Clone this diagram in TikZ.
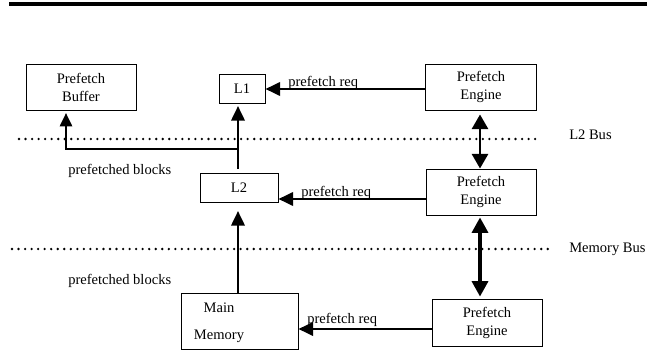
\documentclass[tikz,border=0pt]{standalone}
\usepackage{fontspec}
\setmainfont{Liberation Serif}
\usetikzlibrary{arrows.meta}

\tikzset{
  box/.style={draw, line width=0.7pt, inner sep=0pt, align=center,
              font=\fontsize{10.9}{13.5}\selectfont},
  lbl/.style={inner sep=0pt, anchor=base west, font=\fontsize{10.9}{13}\selectfont},
  flow/.style={line width=2pt, -{Triangle[length=11pt,width=10pt]}},
  fat/.style={line width=2.4pt, {Triangle[length=11.5pt,width=12pt]}-{Triangle[length=11.5pt,width=12pt]}},
  bus/.style={line width=1.95pt, line cap=round, dash pattern=on 0pt off 4.9pt},
}

\begin{document}
\begin{tikzpicture}[x=0.75pt, y=-0.75pt]
  \useasboundingbox (0,0) rectangle (660,360);

  % heading rule
  \draw[line width=2.3pt] (9,4) -- (647,4);

  % buses
  \draw[bus] (19,139) -- (537,139);
  \draw[bus] (12,249) -- (548,249);
  \node[lbl] (l2bus) at (569,139) {L2 Bus};
  \node[lbl] (membus) at (569,252) {Memory Bus};

  % blocks
  \node[box, minimum width=82.5pt, minimum height=34.5pt] (buf) at (81,87) {Prefetch\\Buffer};
  \node[box, minimum width=34.5pt, minimum height=21.75pt] (l1) at (242,88.5) {L1};
  \node[box, minimum width=83.25pt, minimum height=34.5pt] (eng1) at (481,87) {Prefetch\\Engine};
  \node[box, minimum width=58.5pt, minimum height=21.75pt] (l2) at (239,187.5) {L2};
  \node[box, minimum width=82.5pt, minimum height=34.5pt] (eng2) at (481,192) {Prefetch\\Engine};
  \node[box, minimum width=87.75pt, minimum height=42pt] (mem) at (239.5,321) {};
  \node[inner sep=0pt, align=center, font=\fontsize{10.9}{20}\selectfont] (memtext) at (219,322.5) {Main\\Memory};
  \node[box, minimum width=82.5pt, minimum height=35.25pt] (eng3) at (487,322.5) {Prefetch\\Engine};

  % anchor points on the data paths
  \coordinate (l2up) at (238,169);
  \coordinate (l1in) at (238,106);
  \coordinate (split) at (238,149);
  \coordinate (bend) at (66,149);
  \coordinate (bufin) at (66,113);
  \coordinate (memout) at (238,293);
  \coordinate (l2in) at (238,211);

  % prefetched blocks towards the CPU side
  \draw[flow] (l2up) -- (l1in);
  \draw[line width=2pt, -{Triangle[length=10pt,width=9pt]}] (split) -- (bend) -- (bufin);
  \draw[flow] (memout) -- (l2in);
  \node[lbl] (pb1) at (68,174) {prefetched blocks};
  \node[lbl] (pb2) at (68,284) {prefetched blocks};

  % prefetch requests
  \draw[flow] (eng1.west |- 0,89) -- (l1.east |- 0,89);
  \node[lbl] (req1) at (288,86) {prefetch req};
  \draw[flow] (eng2.west |- 0,199) -- (l2.east |- 0,199);
  \node[lbl] (req2) at (301,196) {prefetch req};
  \draw[flow] (eng3.west |- 0,329) -- (mem.east |- 0,329);
  \node[lbl] (req3) at (307,323) {prefetch req};

  % links between the prefetch engines
  \draw[line width=2.2pt, {Triangle[length=11pt,width=12pt]}-{Triangle[length=11pt,width=12pt]}]
    ([yshift=-3pt]eng1.south -| 480,0) -- (eng2.north -| 480,0);
  \draw[fat] ([yshift=-1.5pt]eng2.south -| 480,0) -- ([yshift=1.5pt]eng3.north -| 480,0);
\end{tikzpicture}
\end{document}
